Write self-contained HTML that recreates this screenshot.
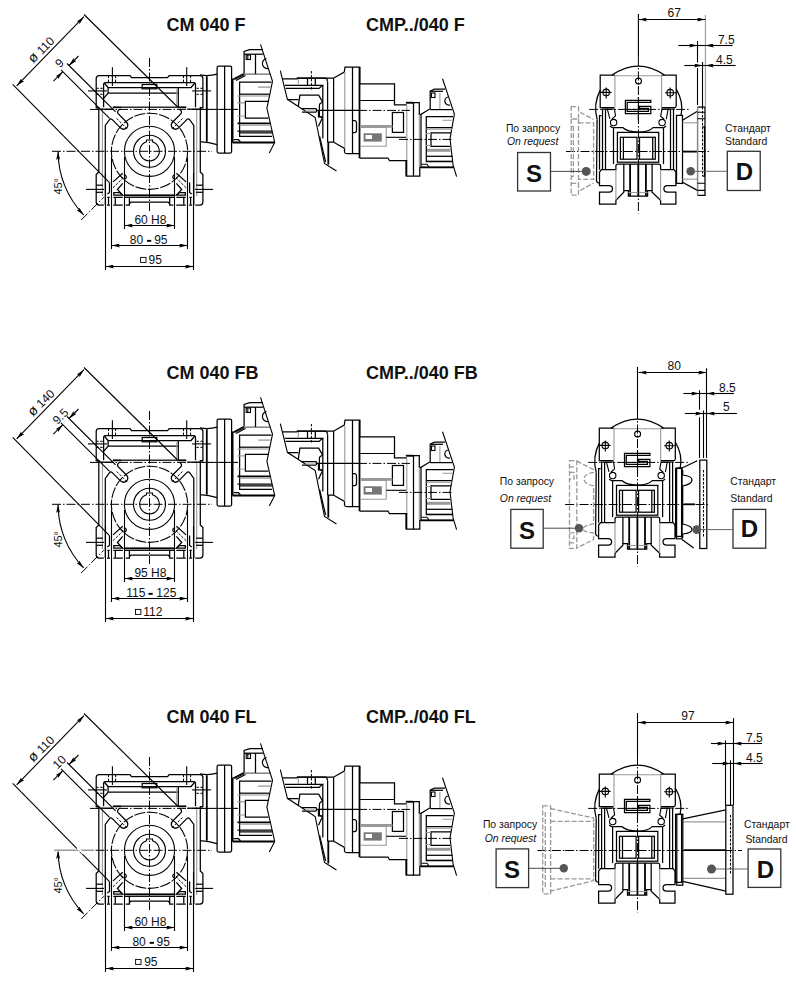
<!DOCTYPE html>
<html><head><meta charset="utf-8">
<style>
html,body{margin:0;padding:0;background:#fff;width:796px;height:984px;overflow:hidden}
svg{display:block;font-family:"Liberation Sans",sans-serif}
.k{stroke:#000;stroke-width:1.25;fill:none}
.kb{stroke:#000;stroke-width:1.8;fill:none}
.kt{stroke:#000;stroke-width:1.1;fill:none}
.g{stroke:#999;stroke-width:1.1;fill:none}
.c{stroke:#000;stroke-width:1;fill:none;stroke-dasharray:9 2 1.5 2}
.h{stroke:#000;stroke-width:1;fill:none;stroke-dasharray:2.5 1.5}
.gd{stroke:#999;stroke-width:1.3;fill:none;stroke-dasharray:5 2}
text{fill:#111}
.tb{font-weight:bold;font-size:18px}
.td{font-size:12px}
.ts{font-size:10.4px}
.tS{font-weight:bold;font-size:24px}
</style></head><body>
<svg width="796" height="984" viewBox="0 0 796 984">
<defs>
<marker id="ar" viewBox="0 0 8.5 4" refX="8.5" refY="2" markerWidth="8.5" markerHeight="4" orient="auto-start-reverse" markerUnits="userSpaceOnUse"><path d="M0,0 L8.5,2 L0,4 L1.6,2 Z" fill="#000"/></marker>

<!-- ============ GEARBOX FRONT VIEW (row coords) ============ -->
<g id="gbL">
  <path class="k" d="M149.5,77.6 L131.5,77.6 L130,75.6 L99.2,75.6 Q96.2,75.6 96.2,78.6 L96.2,107.7 L98.8,107.7 L98.8,172 L96.2,174.6 L96.2,202.1 Q96.2,205.1 99.2,205.1 L103.8,205.1"/>
  <path class="k" d="M107,205.1 L110,205.1 M113.3,205.1 L122.8,205.1 M125.8,205.1 L129.4,205.1 L129.4,197.3 L124.6,197.3 M129.4,203.6 L131,202.2 L149.5,202.2"/>
  <line class="kb" x1="124.6" y1="195.3" x2="149.5" y2="195.3"/>
  <line class="k" x1="129.4" y1="197.3" x2="149.5" y2="197.3"/>
  <line class="g" x1="102.4" y1="108" x2="102.4" y2="196"/>
  <!-- top cover -->
  <path class="k" d="M149.5,82.5 L105.6,82.5 Q103.6,82.5 103.6,84.5 L103.6,107.2"/>
  <path class="k" d="M104.2,83 L108.1,87.5 L149.5,87.5"/>
  <path class="kb" d="M112.8,107.3 L121.6,107.3"/>
  <path class="k" d="M96.4,109.2 L112,109.2"/>
  <path class="k" d="M121.6,107.2 L149.5,107.2"/>
  <!-- bolt top -->
  <line class="kt" x1="112.4" y1="67.2" x2="112.4" y2="86"/>
  <line class="h" x1="108.5" y1="75.6" x2="108.5" y2="82.5"/>
  <line class="h" x1="115.6" y1="75.6" x2="115.6" y2="82.5"/>
  <line class="kt" x1="88" y1="90.9" x2="107" y2="90.9"/>
  <line class="h" x1="96.2" y1="88.3" x2="103.6" y2="88.3"/>
  <line class="h" x1="96.2" y1="94.3" x2="103.6" y2="94.3"/>
  <!-- slot -->
  <path class="k" d="M105.3,205.1 L105.3,125.5 L109.5,119.6 Q110.8,118.2 112.3,119.6 L120.7,128.1 Q123.6,130.5 126.8,127.8 Q129,124.8 126.4,122 L117.9,113.4 Q117.3,112.2 117.8,111.2 L119.5,109.2"/>
  <path class="h" d="M116.7,118.5 L127.7,129.5"/>
  <!-- lower left -->
  <line class="k" x1="96.2" y1="185.2" x2="103" y2="185.2"/>
  <line class="k" x1="96.2" y1="192.3" x2="103" y2="192.3"/>
  <line class="kt" x1="86" y1="189.4" x2="104" y2="189.4"/>
  <path class="k" d="M109.5,182.6 L109.5,192.5 L107.3,194"/>
  <path class="k" d="M108.5,197.4 L108.5,204.7 M107.3,197.4 L109.7,197.4 M115.3,197.4 L115.3,204.7 M113.3,197.4 L122.8,197.4"/>
  <path class="k" d="M122.7,183.4 L117.4,189.5 L122.7,195.1"/>
  <path class="k" d="M113.8,192.5 L119.5,192.5 L122.7,195.1 L113.8,195.1 Z"/>
  <path class="k" d="M113,181.9 L122.7,173.3"/>
  <path class="h" d="M113,187.7 L122,179 Q123.5,177 122,175.5"/>
  <path class="k" d="M124.4,174.5 Q128.3,177 124.4,179.5"/>
</g>
<g id="gb">
  <use href="#gbL"/>
  <use href="#gbL" transform="translate(299.1,0) scale(-1,1)"/>
  <!-- right side motor flange region overrides -->
  <rect x="142.2" y="84.5" width="14.6" height="4.3" class="k" fill="#fff"/>
  <line class="k" x1="178.3" y1="87.5" x2="178.3" y2="107.2"/>
  <path class="k" d="M108.1,87.5 L108.1,93.2 L103.6,98.4 M108.1,93.2 L178.3,93.2"/>
  <line class="g" x1="176.8" y1="89" x2="176.8" y2="106"/>
  <!-- circles -->
  <circle cx="149.5" cy="151.3" r="38.1" class="kt" stroke-dasharray="11 1.6"/>
  <circle cx="149.5" cy="151.3" r="25.1" class="kt"/>
  <circle cx="149.5" cy="151.3" r="16" class="kt"/>
  <path class="kt" d="M146.5,141.8 A9.8,9.8 0 1 0 152.5,141.8 L152.5,140 L146.5,140 Z"/>
  <!-- centre lines -->
  <line class="c" x1="52" y1="151.3" x2="212" y2="151.3"/>
  <line class="c" x1="149.5" y1="58" x2="149.5" y2="211"/>
  <line class="c" x1="90" y1="109.4" x2="238" y2="109.4"/>
  <!-- diameter dim -->
  <line class="kt" x1="12.7" y1="84.4" x2="109.5" y2="182.6"/>
  <line class="kt" x1="84" y1="14.5" x2="177.6" y2="107"/>
  <line class="kt" x1="16.7" y1="85.8" x2="84" y2="16.7" marker-start="url(#ar)" marker-end="url(#ar)"/>
  <!-- slot dim -->
  <line class="kt" x1="67" y1="63.5" x2="115.6" y2="111.9"/>
  <line class="kt" x1="61" y1="69.8" x2="109.6" y2="118.3"/>
  <line class="kt" x1="78.5" y1="56" x2="69" y2="65.5" marker-end="url(#ar)"/>
  <line class="kt" x1="53.4" y1="81.1" x2="62.85" y2="71.65" marker-end="url(#ar)"/>
  <!-- 45 deg -->
  <path class="kt" d="M58.1,151.4 A91.4,91.4 0 0 0 83.7,214.9" marker-start="url(#ar)" marker-end="url(#ar)"/>
  <line class="c" x1="81.2" y1="220" x2="103.8" y2="197.3"/>
  <text class="td" font-size="11" style="font-size:11px" transform="translate(61.6,186.3) rotate(-90)" text-anchor="middle">45°</text>
</g>

<!-- ============ CM MOTOR (cut) ============ -->
<g id="mt">
  <path class="k" d="M200,74.9 Q209,76.5 217.1,74.1"/>
  <path class="k" d="M200,141.7 Q209,142.2 217.1,144.6"/>
  <line class="kb" x1="206.8" y1="76.3" x2="206.8" y2="141.7"/>
  <rect class="k" x="217.1" y="66" width="14.5" height="87.1" rx="1.5"/>
  <line class="k" x1="224.6" y1="66" x2="224.6" y2="153.1"/>
  <line class="kb" x1="232.6" y1="79.1" x2="232.6" y2="142.6"/>
  <path class="k" d="M231.6,79.1 L233.4,79.1 L242.7,74.1 L244.1,74.1 L244.1,51.4 L249.8,49.7 L263,49.7"/>
  <path class="kt" d="M234.5,79.5 L244,74.8 M236,80.5 L245.5,75.5"/>
  <line x1="244.1" y1="74.2" x2="270.5" y2="74.2" stroke="#888" stroke-width="1.6"/>
  <line class="k" x1="244.1" y1="54.2" x2="263" y2="54.2"/>
  <line class="k" x1="255.5" y1="54.2" x2="255.5" y2="73.9"/>
  <rect class="kt" x="246.2" y="55" width="4.3" height="4.5"/>
  <path class="kt" d="M247.8,55 L247.8,59.5"/>
  <path class="k" d="M266.5,58.5 A5,5 0 0 0 268.5,68.5"/>
  <path class="kt" d="M260.5,44.3 L272.5,81.3 L266.9,108.3 L274.7,142.4 L269.3,153.1"/>
  <path class="k" d="M271.5,82.2 L239.6,82.2 L239.6,136.3 L272,136.3"/>
  <path class="g" d="M258.5,87.1 L270.5,87.1" stroke-width="2" stroke-linecap="round"/>
  <line class="k" x1="239.6" y1="94.2" x2="269.5" y2="94.2"/>
  <line class="g" x1="237.5" y1="96" x2="269" y2="96"/>
  <path class="k" d="M268.5,101.3 L245.4,101.3 L245.4,118 L268.5,118"/>
  <path class="g" d="M237.5,102.9 L245,102.9 M237.5,116 L245,116" stroke-width="1.6"/>
  <line class="kb" x1="237.5" y1="123.3" x2="270.5" y2="123.3"/>
  <line class="g" x1="239.6" y1="125.2" x2="270.5" y2="125.2"/>
  <line class="k" x1="237.5" y1="131" x2="272" y2="131"/>
  <line class="k" x1="239.6" y1="132.8" x2="272" y2="132.8"/>
  <line class="kb" x1="232.6" y1="142.5" x2="274.7" y2="142.5"/>
  <path class="k" d="M233.7,139.5 L238.5,139.5 L240.5,142"/>
  <line class="c" x1="200" y1="109.4" x2="237" y2="109.4"/>
</g>
<!-- ============ CMP (cut) ============ -->
<g id="cmp">
  <path class="kt" d="M280.3,70.7 L287.4,99.3 L315.2,117.6 L324.5,163.5 L336.5,171"/>
  <path class="k" d="M282.5,78.9 L296.8,78.9 L297.5,78.2 L325.5,78.2 Q327.4,78.5 327.4,81.5"/>
  <path class="k" d="M296.8,78.2 L333.4,78.2 L344.3,72 L345,67 L359.7,67 L359.7,83.9 L394.5,83.9 L394.5,104.9 L406.8,104.9 M406.8,102.7 L419.3,102.7 L419.3,114.3 L421,114.3 L430.2,108.7 L430.2,91.1 L434.6,89.2 L445,89.2"/>
  <path class="k" d="M284.8,85.3 L322.5,85.3 L319.1,88.4 L285.6,88.4"/>
  <line class="g" x1="298.3" y1="78.9" x2="298.3" y2="85.3"/>
  <line class="k" x1="307.5" y1="78.5" x2="307.5" y2="85.3"/>
  <line class="k" x1="315.3" y1="78.5" x2="315.3" y2="85.3"/>
  <line class="h" x1="311.4" y1="71" x2="311.4" y2="90.6"/>
  <line class="k" x1="322.8" y1="85.3" x2="322.8" y2="138.6"/>
  <line class="k" x1="327.6" y1="81.5" x2="327.6" y2="142"/>
  <line class="kb" x1="328.3" y1="142" x2="328.3" y2="164.6"/>
  <line class="k" x1="333.6" y1="78.2" x2="333.6" y2="142"/>
  <path class="k" d="M327.6,142 L333.4,142 L344.5,148.4 L344.5,152 Q344.8,153.7 347,153.7 L359.2,153.7"/>
  <line class="g" x1="344.8" y1="72" x2="344.8" y2="148.4"/>
  <line class="k" x1="352.5" y1="67" x2="352.5" y2="153.7"/>
  <path class="kb" d="M359.5,67 L359.5,158.2"/>
  <path class="kb" d="M405.8,102.7 L413.5,102.7"/>
  <path class="k" d="M352.5,120.5 L355,120.5 Q356.5,121 356.5,123 L356.5,130.5 Q356.5,132.6 354.5,132.6 L352.5,132.6"/>
  <path class="k" d="M287.4,99.7 L298.3,99.7 M298.3,106.1 L299.9,95.1 L318.7,95.1 L322.5,101.9 L320.5,103.4 Q319.4,104 319.4,105.5 L319.4,115.5 Q319.4,117 321,117 L322.8,117"/>
  <path class="k" d="M301.4,108.6 L316,108.6 Q316.4,108.8 316.4,109.5 L316.4,112.1 M302,112.1 L316.4,112.1"/>
  <path class="g" d="M305,111 L316,111"/>
  <path class="k" d="M318.5,110 L318.5,116.8 L322.2,116.8 M322.2,118.3 L318.5,126.2 M319.6,136.4 L325.6,162"/>
  <path class="kt" d="M359.7,100.5 L394.5,100.5"/>
  <path class="k" d="M359.7,158 L388,158 L389.5,160.7 L406.3,160.7 L406.3,176.1 L419.8,176.1 L419.8,167.3 L453.7,167.3"/>
  <line class="g" x1="406.8" y1="104.9" x2="406.8" y2="160.7"/><line class="kb" x1="406.4" y1="160" x2="406.4" y2="176"/>
  <line class="k" x1="413.5" y1="102.7" x2="413.5" y2="176"/>
  <line class="g" x1="419.3" y1="114.3" x2="419.3" y2="167"/>
  <line class="k" x1="421" y1="114.3" x2="421" y2="167"/>
  <rect class="k" x="392.4" y="112.5" width="11.1" height="19.9"/>
  <rect x="360" y="125" width="32.4" height="2.8" fill="#999"/>
  <path class="g" d="M360,127.5 L386.2,127.5 L386.2,146.3 L360,146.3"/>
  <rect x="363.6" y="133.3" width="18.2" height="8.3" fill="#777"/>
  <rect x="365.5" y="135" width="6.5" height="4" fill="#fff"/>
  <line class="kt" x1="386.2" y1="137.3" x2="406" y2="137.3"/>
  <!-- break line right -->
  <path class="kt" d="M442.5,78.8 L454.4,114 L450,138.8 L453.1,165.2 L456.6,176.6"/>
  <line class="k" x1="430.2" y1="109.6" x2="452" y2="109.6"/>
  <line class="g" x1="439.9" y1="93" x2="439.9" y2="109"/>
  <line class="k" x1="430.2" y1="91.3" x2="443" y2="91.3"/>
  <rect class="kt" x="431.5" y="93" width="3.5" height="4.5"/>
  <path class="k" d="M448,97 A4,4 0 0 0 450,105"/>
  <path class="k" d="M453,116.6 L426.3,116.6 L426.3,161.5 L453,161.5"/>
  <line class="k" x1="426.3" y1="127.6" x2="452" y2="127.6"/>
  <line class="g" x1="426.3" y1="129.2" x2="452" y2="129.2"/>
  <path class="k" d="M451,132.9 L431,132.9 L431,146.3 L450,146.3"/>
  <rect x="427" y="148.8" width="23.5" height="3" fill="#999"/>
  <path class="g" d="M443,120.3 L452,120.3" stroke-width="1.8" stroke-linecap="round"/>
  <path class="kt" d="M421.5,164.2 L427,164.2 L429,167"/>
  <path class="g" d="M426,133.5 L431,133.5 M426,145.5 L431,145.5" stroke-width="2"/>
  <line class="k" x1="426.3" y1="156.3" x2="452.5" y2="156.3"/>
  <line class="k" x1="426.3" y1="161.3" x2="453" y2="161.3"/>
  <line class="kb" x1="421" y1="167.4" x2="453.7" y2="167.4"/>
  <line class="kt" x1="316.5" y1="110.4" x2="358" y2="110.4"/><line class="c" x1="358" y1="110.4" x2="410" y2="110.4"/>
  <line class="c" x1="399" y1="139.4" x2="452" y2="139.4"/>
</g>

<!-- ============ RIGHT SIDE VIEW (common body) ============ -->
<g id="rv">
  <!-- top arc + ears -->
  <path class="k" d="M611.9,75.1 Q638.5,57 664.5,75.1"/>
  <path class="k" d="M614.9,75.1 L600.2,75.1 L600.2,107.5 L614.4,107.5"/>
  <path class="k" d="M661.6,75.1 L676.2,75.1 L676.2,106 Q676.2,107.5 674.5,107.5 L661.6,107.5"/>
  <line class="g" x1="614.9" y1="75.8" x2="661.6" y2="75.8"/>
  <line class="g" x1="614.9" y1="75.8" x2="614.9" y2="107.5"/>
  <line class="g" x1="661.6" y1="75.8" x2="661.6" y2="107.5"/>
  <path class="kt" d="M601.6,109 L614.4,109 M661.6,109 L675,109"/>
  <circle class="kt" cx="638.5" cy="81.1" r="3"/>
  <circle class="kt" cx="606.2" cy="92.4" r="3.3"/>
  <path class="kt" d="M600.5,92.4 L611.5,92.4 M606.2,87.5 L606.2,98.5"/>
  <circle class="kt" cx="670.2" cy="92.7" r="3.3"/>
  <path class="kt" d="M665,92.7 L676,92.7 M670.2,87.5 L670.2,98.5"/>
  <!-- casing arcs -->
  <path class="k" d="M600.2,90.1 Q593,104 597.1,119.2"/>
  <path class="k" d="M676.2,89.1 Q684,102 681,115.3"/>
  <!-- G5 logo -->
  <rect x="625" y="100" width="26.2" height="14" fill="#fff"/>
  <path class="k" d="M625.4,100.3 L650.8,100.3 L650.8,102.4 L627.2,102.4 L627.2,111.3 L648.3,111.3 L648.3,108.3 L639.5,108.3 L639.5,106.3 L650.8,106.3 L650.8,113.7 L625.4,113.7 Z"/>
  <rect x="640.5" y="108.1" width="7.5" height="1.6" fill="#000"/>
  <line class="kt" x1="638.4" y1="97" x2="638.4" y2="102.4"/>
  <line class="kt" x1="638.4" y1="104.5" x2="638.4" y2="120"/>
  <path class="c" d="M627.2,109.4 L639.5,109.4"/>
  <!-- arms and pins -->
  <path class="kt" d="M607.2,108.7 L609.9,118.8 M614.4,108.7 L615.5,115.8 L612,119"/>
  <circle class="kt" cx="613.6" cy="122.6" r="3.2"/>
  <path class="kt" d="M610,126 Q612,128 613.5,127.5"/>
  <path class="kt" d="M668.2,108.7 L666.3,119.2 M662.1,108.7 L660.6,116.2 L664,119"/>
  <circle class="kt" cx="662.1" cy="122.6" r="3.2"/>
  <path class="kt" d="M666,126 Q664,128 663.3,127.5"/>
  <path class="k" d="M613.5,127.5 L622.7,127.5 Q627,131.7 638.5,132.2 Q650,131.7 653.1,127.5 L663.3,127.5"/>
  <!-- verticals -->
  <path class="k" d="M597.1,119.2 L596.5,180 Q596.5,183.2 599.6,183.2"/>
  <path class="k" d="M601.6,115.5 L599.5,115.5 L599.5,169.7"/>
  <line class="k" x1="602.5" y1="109" x2="602.5" y2="169.7"/>
  <line class="k" x1="605.5" y1="109" x2="605.5" y2="169.7"/>
  <line class="k" x1="613.5" y1="127.5" x2="613.5" y2="164.1"/>
  <line class="k" x1="663.5" y1="127.5" x2="663.5" y2="164.1"/>
  <line class="k" x1="670.5" y1="109" x2="670.5" y2="169.7"/>
  <line class="k" x1="673.5" y1="109" x2="673.5" y2="169.7"/>
  <rect class="k" x="676.5" y="115.4" width="6" height="68"/>
  <!-- center rect -->
  <rect class="k" x="617.4" y="132.4" width="41.3" height="29.8"/>
  <rect class="k" x="620.4" y="137.3" width="16.6" height="21.9"/>
  <line class="k" x1="623.4" y1="137.3" x2="623.4" y2="159.2"/>
  <rect class="k" x="639.5" y="137.3" width="15.8" height="21.9"/>
  <line class="k" x1="652.7" y1="137.3" x2="652.7" y2="159.2"/>
  <!-- feet -->
  <path class="k" d="M601.5,169.6 L615.9,169.6 L615.9,166 Q615.9,164 618,164 L658.5,164 Q660.6,164 660.6,166 L660.6,169.6 L674,169.6 L675.9,172 L675.9,185.5 L667.4,185.5 Q663.9,185.5 663.9,188.8 Q663.9,192.2 667.4,192.2 L675.9,192.2 L675.9,204.1 L660.6,204.1 L660.6,200.2 L652.1,192.2 L652.1,190.5 L647.6,190.5 L647.6,196 L628.4,196 L628.4,190.5 L623.8,190.5 L623.8,192.2 L615.9,200.2 L615.9,204.1 L599.5,204.1 L599.5,192.2 L609.1,192.2 Q612.5,192.2 612.5,188.8 Q612.5,185.5 609.1,185.5 L599.5,185.5 L599.5,172 Z"/>
  <line class="g" x1="615.9" y1="169.6" x2="615.9" y2="200.2"/>
  <line class="g" x1="660.6" y1="169.6" x2="660.6" y2="200.2"/>
  <path class="k" d="M623.8,164 L623.8,190.5 M652.1,164 L652.1,190.5"/>
  <path class="kb" d="M630.1,164 L630.1,196 M645.9,164 L645.9,196 M638.3,164 L638.3,196"/>
  <line class="g" x1="628.4" y1="192.5" x2="647.6" y2="192.5"/>
  <!-- centre lines -->
  <line class="kt" x1="638.4" y1="14" x2="638.4" y2="57"/><line class="c" x1="638.4" y1="57" x2="638.4" y2="213.4"/>
  <line class="c" x1="589.1" y1="109.4" x2="688.7" y2="109.4"/>
  <line class="c" x1="566" y1="151.5" x2="710" y2="151.5"/>
</g>
<g id="dflange1">
  <line class="k" x1="682.5" y1="120.3" x2="697.4" y2="111.2"/>
  <line class="k" x1="682.5" y1="182.2" x2="697.4" y2="190.4"/>
  <line class="g" x1="682.5" y1="122.8" x2="697.4" y2="122.8"/>
  <line class="g" x1="682.5" y1="179.2" x2="697.4" y2="179.2"/>
  <rect x="683" y="150.7" width="14" height="1.8" fill="#000"/>
  <path class="k" d="M697.4,107.1 L705,107.1 L705,195.4 L697.4,195.4"/><line x1="697.6" y1="107.1" x2="697.6" y2="195.4" stroke="#888" stroke-width="1.5"/>
  <path class="kt" d="M697.4,112.2 L705,112.2 M697.4,118.8 L705,118.8 M697.4,183.2 L705,183.2 M697.4,190.4 L705,190.4"/>
  <path class="k" d="M702.5,126.9 L704.5,126.9 L704.5,176.1 L702.5,176.1"/>
  <line class="h" x1="702.5" y1="107" x2="702.5" y2="176"/>
  <line class="g" x1="705.4" y1="15" x2="705.4" y2="107"/>
  <line class="kt" x1="697.5" y1="41" x2="697.5" y2="62.5"/>
  <line class="kt" x1="697.5" y1="68" x2="697.5" y2="105"/>
  <line class="kt" x1="702.5" y1="62" x2="702.5" y2="107"/>
</g>
<g id="sflange1">
  <path class="gd" d="M571.2,106.7 L578.5,106.7 L578.5,119 L571.2,119 Z M571.2,183.3 L578.5,183.3 L578.5,195.1 L571.2,195.1 Z M571.2,119 L571.2,183.3 M573.4,126.3 L573.4,176.6 M571.2,126.3 L573.4,126.3 M571.2,176.6 L573.4,176.6 M578.5,119 L578.5,183.3 M578.5,122.9 L593.6,122.9 L593.6,179.4 L578.5,179.4 M580.1,112.3 L593.6,119.5 M580.1,190.5 L593.6,183"/>
</g>
</defs>

<text class="tb" x="166.5" y="30.7">CM 040 F</text>
<text class="tb" x="366" y="30.7">CMP../040 F</text>
<g transform="translate(0,0)">
<use href="#gb"/><use href="#mt"/><use href="#cmp"/><use href="#rv" x="0"/>
<path class="kt" d="M124.5,157 L124.5,229.0 M174.5,157 L174.5,229.0 M111.5,157 L111.5,249.0 M187.5,157 L187.5,249.0 M105.5,173 L105.5,270.0 M193.5,173 L193.5,270.0"/>
<line class="kt" x1="124.5" y1="225.5" x2="174.5" y2="225.5" marker-start="url(#ar)" marker-end="url(#ar)"/>
<line class="kt" x1="111.5" y1="245.5" x2="187.5" y2="245.5" marker-start="url(#ar)" marker-end="url(#ar)"/>
<line class="kt" x1="105.5" y1="266.5" x2="193.5" y2="266.5" marker-start="url(#ar)" marker-end="url(#ar)"/>
<text class="td" x="150.4" y="223.6" text-anchor="middle">60 H8</text>
<text class="td" x="143.2" y="244.0" text-anchor="end">80</text>
<text class="td" x="154.2" y="244.0" text-anchor="start">95</text>
<rect x="147" y="239.9" width="4.2" height="1.9" fill="#000"/>
<rect x="140.6" y="257.40000000000003" width="5.4" height="5" fill="none" stroke="#000" stroke-width="0.9"/>
<text class="td" x="148.5" y="263.8">95</text>
<text class="td" transform="translate(44.2,52.7) rotate(-45)" text-anchor="middle"><tspan style="font-size:14px">ø</tspan> 110</text>
<text class="td" transform="translate(62.3,66) rotate(-45)" text-anchor="middle">9</text>
</g>
<text class="tb" x="166.5" y="378.9">CM 040 FB</text>
<text class="tb" x="366" y="378.9">CMP../040 FB</text>
<g transform="translate(0,353)">
<use href="#gb"/><use href="#mt"/><use href="#cmp"/><use href="#rv" x="-0.9"/>
<path class="kt" d="M124.5,157 L124.5,229.0 M174.5,157 L174.5,229.0 M111.5,157 L111.5,249.0 M187.5,157 L187.5,249.0 M105.5,173 L105.5,269.0 M193.5,173 L193.5,269.0"/>
<line class="kt" x1="124.5" y1="225.5" x2="174.5" y2="225.5" marker-start="url(#ar)" marker-end="url(#ar)"/>
<line class="kt" x1="111.5" y1="245.5" x2="187.5" y2="245.5" marker-start="url(#ar)" marker-end="url(#ar)"/>
<line class="kt" x1="105.5" y1="265.5" x2="193.5" y2="265.5" marker-start="url(#ar)" marker-end="url(#ar)"/>
<text class="td" x="150.4" y="223.6" text-anchor="middle">95 H8</text>
<text class="td" x="145.4" y="244.0" text-anchor="end">115</text>
<text class="td" x="156.3" y="244.0" text-anchor="start">125</text>
<rect x="148.5" y="239.9" width="4.2" height="1.9" fill="#000"/>
<rect x="135.5" y="256.40000000000003" width="5.4" height="5" fill="none" stroke="#000" stroke-width="0.9"/>
<text class="td" x="143.3" y="262.8">112</text>
<text class="td" transform="translate(44.2,52.7) rotate(-45)" text-anchor="middle"><tspan style="font-size:14px">ø</tspan> 140</text>
<text class="td" transform="translate(63.3,66.2) rotate(-45)" text-anchor="middle">9.5</text>
</g>
<text class="tb" x="166.5" y="722.6">CM 040 FL</text>
<text class="tb" x="366" y="722.6">CMP../040 FL</text>
<g transform="translate(0,699)">
<use href="#gb"/><use href="#mt"/><use href="#cmp"/><use href="#rv" x="-0.9"/>
<path class="kt" d="M124.5,157 L124.5,232.0 M174.5,157 L174.5,232.0 M111.5,157 L111.5,252.0 M187.5,157 L187.5,252.0 M105.5,173 L105.5,273.0 M193.5,173 L193.5,273.0"/>
<line class="kt" x1="124.5" y1="228.5" x2="174.5" y2="228.5" marker-start="url(#ar)" marker-end="url(#ar)"/>
<line class="kt" x1="111.5" y1="248.5" x2="187.5" y2="248.5" marker-start="url(#ar)" marker-end="url(#ar)"/>
<line class="kt" x1="105.5" y1="269.5" x2="193.5" y2="269.5" marker-start="url(#ar)" marker-end="url(#ar)"/>
<text class="td" x="150.4" y="226.6" text-anchor="middle">60 H8</text>
<text class="td" x="145.8" y="247.0" text-anchor="end">80</text>
<text class="td" x="156.6" y="247.0" text-anchor="start">95</text>
<rect x="149.7" y="242.9" width="4.2" height="1.9" fill="#000"/>
<rect x="135.6" y="260.40000000000003" width="5.4" height="5" fill="none" stroke="#000" stroke-width="0.9"/>
<text class="td" x="144.2" y="266.8">95</text>
<text class="td" transform="translate(44.2,52.7) rotate(-45)" text-anchor="middle"><tspan style="font-size:14px">ø</tspan> 110</text>
<text class="td" transform="translate(62.3,66) rotate(-45)" text-anchor="middle">10</text>
<line x1="52" y1="151.3" x2="94" y2="151.3" stroke="#fff" stroke-width="2.5"/><line x1="54" y1="151.3" x2="94" y2="151.3" stroke="#999" stroke-width="1.6"/><line x1="77.2" y1="148.5" x2="83.6" y2="154.9" stroke="#fff" stroke-width="2"/>
</g>

<use href="#dflange1"/>
<use href="#sflange1"/>
<line class="kt" x1="638.5" y1="19.5" x2="705.4" y2="19.5" marker-start="url(#ar)" marker-end="url(#ar)"/>
<text class="td" x="674.3" y="17.1" text-anchor="middle">67</text>
<line class="kt" x1="678.3" y1="45.5" x2="697.5" y2="45.5" marker-end="url(#ar)"/><line class="kt" x1="697.5" y1="45.5" x2="705.4" y2="45.5"/>
<line class="kt" x1="732.6" y1="45.5" x2="705.4" y2="45.5" marker-end="url(#ar)"/>
<text class="td" x="717.9" y="43.8">7.5</text>
<line class="kt" x1="684.3" y1="65.5" x2="702.5" y2="65.5" marker-end="url(#ar)"/><line class="kt" x1="702.5" y1="65.5" x2="705.4" y2="65.5"/>
<line class="kt" x1="735.6" y1="65.5" x2="705.4" y2="65.5" marker-end="url(#ar)"/>
<text class="td" x="716" y="63.9">4.5</text>
<text class="ts" x="505.9" y="131.9">По запросу</text>
<text class="ts" font-style="italic" x="507" y="145">On request</text>
<rect x="517.6" y="152.5" width="32.9" height="38.5" fill="none" stroke="#333" stroke-width="1.3"/>
<text class="tS" x="534" y="181.6" text-anchor="middle">S</text>
<line x1="550.5" y1="171.4" x2="586" y2="171.4" stroke="#333" stroke-width="0.9"/>
<circle cx="586.2" cy="171.4" r="4.5" fill="#555"/>
<text class="ts" x="725" y="132.1">Стандарт</text>
<text class="ts" x="725" y="145.2">Standard</text>
<rect x="727.3" y="151.3" width="32.9" height="39.2" fill="none" stroke="#333" stroke-width="1.3"/>
<text class="tS" x="744.5" y="179.6" text-anchor="middle">D</text>
<line x1="690.7" y1="171.3" x2="727.3" y2="171.3" stroke="#555" stroke-width="0.9"/>
<circle cx="690.7" cy="171.3" r="4.3" fill="#555"/>


<g id="r2d">
  <path class="k" d="M682,468 L697.3,460.7 M682,539.4 L693.7,547.9"/>
  <path class="k" d="M682.7,470 L682.7,475 Q692,476 692,480 Q692,484 682.7,486 L682.7,524 Q692,526 692,529.5 Q692,533 682.7,534 L682.7,538"/>
  <rect class="k" x="676.6" y="468" width="5.4" height="70.8"/>
  <rect class="k" x="699.8" y="460.1" width="7" height="88.4"/>
  <line class="h" x1="703.5" y1="470" x2="703.5" y2="538"/>
  <line class="kb" x1="684" y1="504.3" x2="695" y2="504.3"/>
</g>
<path class="gd" d="M569.5,460.6 L576.8,460.6 L576.8,548.4 L569.5,548.4 Z M569.5,466.8 L574,466.8 M569.5,472.4 L574,472.4 L574,479.1 L569.5,479.1 M569.5,532.8 L574,532.8 L574,538.4 L569.5,538.4 M569.5,542.8 L574,542.8 M576.8,461.2 L593.6,469.6 L593.6,472.4 Q584,474 584,479 Q584,484 593.6,485.8 L593.6,523.8 Q583,526 583,529 Q583,532 593.6,532.8 L593.6,539.5 L576.8,548"/>
<line class="kt" x1="638.5" y1="372.5" x2="706.5" y2="372.5" marker-start="url(#ar)" marker-end="url(#ar)"/>
<line class="kt" x1="706.5" y1="368.3" x2="706.5" y2="458"/>
<text class="td" x="674.3" y="369.7" text-anchor="middle">80</text>
<line class="kt" x1="683.4" y1="393.5" x2="699.5" y2="393.5" marker-end="url(#ar)"/><line class="kt" x1="699.5" y1="393.5" x2="706.5" y2="393.5"/>
<line class="kt" x1="733.9" y1="393.5" x2="706.5" y2="393.5" marker-end="url(#ar)"/>
<line class="kt" x1="699.5" y1="390.2" x2="699.5" y2="409.7"/>
<line class="kt" x1="699.5" y1="417.3" x2="699.5" y2="458"/>
<text class="td" x="719.1" y="391.7">8.5</text>
<line class="kt" x1="684.9" y1="413.5" x2="703.5" y2="413.5" marker-end="url(#ar)"/><line class="kt" x1="703.5" y1="413.5" x2="706.5" y2="413.5"/>
<line class="kt" x1="736.9" y1="413.5" x2="706.5" y2="413.5" marker-end="url(#ar)"/>
<line class="kt" x1="703.5" y1="410.5" x2="703.5" y2="458"/>
<text class="td" x="723" y="411">5</text>
<text class="ts" x="499.8" y="485.2">По запросу</text>
<text class="ts" font-style="italic" x="499.8" y="501.8">On request</text>
<rect x="510.8" y="509.4" width="32.4" height="38.8" fill="none" stroke="#333" stroke-width="1.3"/>
<text class="tS" x="527" y="538.5" text-anchor="middle">S</text>
<line x1="543.2" y1="528.2" x2="579" y2="528.2" stroke="#333" stroke-width="0.9"/>
<circle cx="579" cy="528.2" r="4.2" fill="#555"/>
<text class="ts" x="730.3" y="485.2">Стандарт</text>
<text class="ts" x="730.3" y="501.8">Standard</text>
<rect x="733" y="509.4" width="32.7" height="38.8" fill="none" stroke="#333" stroke-width="1.3"/>
<text class="tS" x="749.4" y="537" text-anchor="middle">D</text>
<line x1="696.7" y1="529.6" x2="733" y2="529.6" stroke="#555" stroke-width="0.9"/>
<circle cx="696.7" cy="529.6" r="4.3" fill="#555"/>


<g>
  <path class="k" d="M682.8,818.8 L725.8,809.8 M682.8,881.4 L725.8,891.2"/>
  <path class="g" d="M683,821.9 L725.8,821.9 M683,878.4 L725.8,878.4"/>
  <rect class="k" x="676.8" y="814.3" width="6" height="70.9"/>
  <rect class="k" x="725.8" y="805.3" width="7.2" height="88.9"/>
  <line class="h" x1="730.5" y1="815" x2="730.5" y2="875"/>
  <line class="kb" x1="684" y1="850.2" x2="725.5" y2="850.2"/>
  <line class="c" x1="537.4" y1="850.5" x2="566" y2="850.5"/>
  <line class="c" x1="709" y1="850.5" x2="742" y2="850.5"/>
</g>
<path class="gd" d="M542.7,805.8 L550.6,805.8 L550.6,893.8 L542.7,893.8 Z M545.3,812 L545.3,888 M550.6,808.5 L593.7,818.1 L593.7,880.6 L550.6,891.1 M550.6,821.3 L593.7,821.3 M550.6,878.8 L593.7,878.8"/>
<line class="kt" x1="637.9" y1="722.5" x2="733.5" y2="722.5" marker-start="url(#ar)" marker-end="url(#ar)"/>
<line class="kt" x1="733.5" y1="718.1" x2="733.5" y2="805"/>
<text class="td" x="688" y="720.4" text-anchor="middle">97</text>
<line class="kt" x1="711" y1="743.5" x2="725.5" y2="743.5" marker-end="url(#ar)"/><line class="kt" x1="725.5" y1="743.5" x2="733.5" y2="743.5"/>
<line class="kt" x1="762" y1="743.5" x2="733.5" y2="743.5" marker-end="url(#ar)"/>
<line class="kt" x1="725.5" y1="740.4" x2="725.5" y2="805"/>
<text class="td" x="746.1" y="741.5">7.5</text>
<line class="kt" x1="712.2" y1="763.5" x2="730.5" y2="763.5" marker-end="url(#ar)"/><line class="kt" x1="730.5" y1="763.5" x2="733.5" y2="763.5"/>
<line class="kt" x1="762.7" y1="763.5" x2="733.5" y2="763.5" marker-end="url(#ar)"/>
<line class="kt" x1="730.5" y1="760.3" x2="730.5" y2="805"/>
<text class="td" x="746.1" y="761.8">4.5</text>
<text class="ts" x="482.9" y="827.8">По запросу</text>
<text class="ts" font-style="italic" x="484.7" y="841.9">On request</text>
<rect x="496.1" y="848.9" width="32.5" height="38.7" fill="none" stroke="#333" stroke-width="1.3"/>
<text class="tS" x="512" y="877.9" text-anchor="middle">S</text>
<line x1="528.6" y1="868.3" x2="563.8" y2="868.3" stroke="#333" stroke-width="0.9"/>
<circle cx="563.8" cy="868.3" r="4.2" fill="#555"/>
<text class="ts" x="743.9" y="828.3">Стандарт</text>
<text class="ts" x="745.4" y="842.7">Standard</text>
<rect x="748.1" y="849" width="32.7" height="38.4" fill="none" stroke="#333" stroke-width="1.3"/>
<text class="tS" x="765.5" y="877.6" text-anchor="middle">D</text>
<line x1="711.5" y1="869" x2="748.1" y2="869" stroke="#555" stroke-width="0.9"/>
<circle cx="711.5" cy="869" r="4.5" fill="#555"/>

</svg>
</body></html>
